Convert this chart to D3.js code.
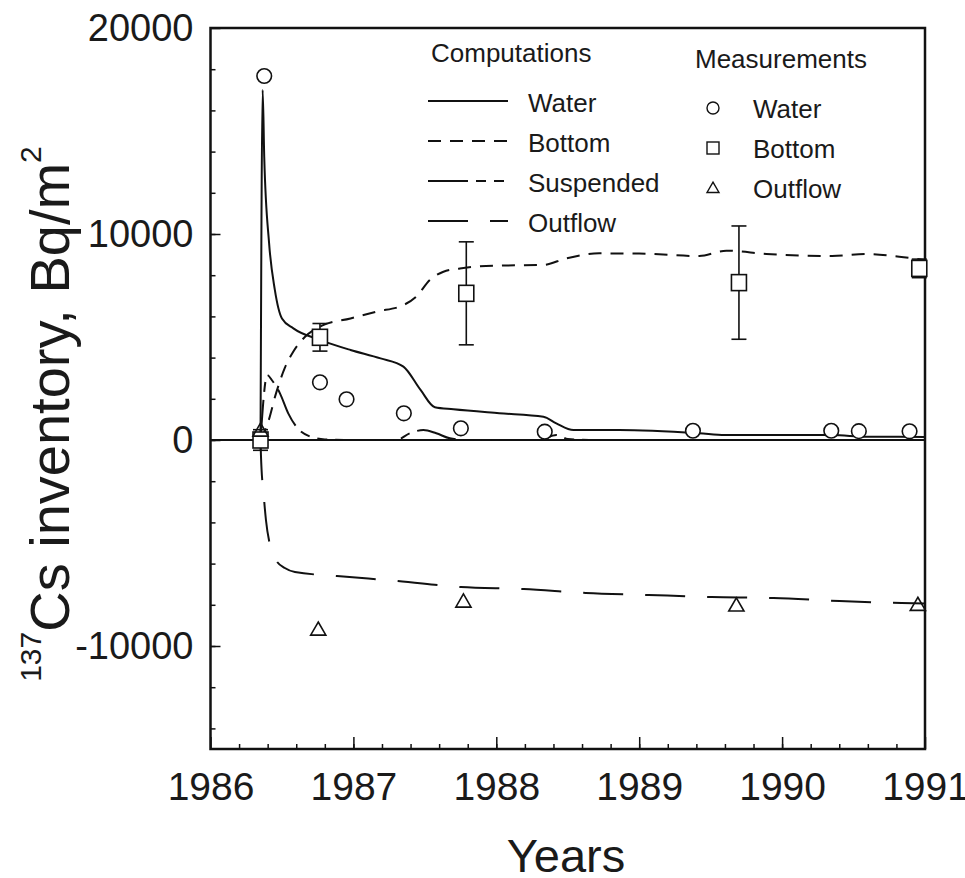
<!DOCTYPE html>
<html>
<head>
<meta charset="utf-8">
<script src="https://cdn.jsdelivr.net/npm/d3@7"></script>
<style>
  body { margin: 0; background: #fff; }
  text { font-family: "Liberation Sans", Arial, sans-serif; fill: #1a1a1a; }
</style>
</head>
<body>
<div id="main"></div>
<script>
// tick labels
var yearTicks = [1986, 1987, 1988, 1989, 1990, 1991];
var valueTicks = [-10000, 0, 10000, 20000];

// computations, [year, Bq/m2]
var waterCalc = [
  [1986.35, 0], [1986.365, 16990], [1986.376, 13750], [1986.41, 9560], [1986.45, 7300],
  [1986.50, 5900], [1986.58, 5420], [1986.77, 4850], [1986.98, 4370], [1987.19, 3960],
  [1987.35, 3560], [1987.47, 2430], [1987.57, 1590], [1987.70, 1490], [1988.02, 1300],
  [1988.33, 1130], [1988.42, 810], [1988.54, 485], [1988.86, 485], [1989.42, 325],
  [1989.60, 240], [1990.35, 240], [1990.59, 160], [1991.0, 150]
];
var bottomCalc = [
  [1986.35, 0], [1986.40, 800], [1986.46, 2300], [1986.52, 3500], [1986.58, 4300],
  [1986.66, 5000], [1986.78, 5550], [1986.98, 5900], [1987.16, 6230], [1987.35, 6550],
  [1987.44, 6960], [1987.535, 7770], [1987.63, 8170], [1987.745, 8330], [1987.98, 8460],
  [1988.33, 8500], [1988.49, 8820], [1988.72, 9060], [1989.0, 9050], [1989.42, 8930],
  [1989.61, 9190], [1989.89, 9030], [1990.35, 8930], [1990.59, 9030], [1990.82, 8900],
  [1991.0, 8740]
];
var suspendedCalc = [
  [1986.35, 0], [1986.397, 3155], [1986.43, 2900], [1986.486, 2265], [1986.544, 1295],
  [1986.60, 650], [1986.70, 160], [1986.80, 30], [1987.0, 0], [1987.30, 0],
  [1987.395, 325], [1987.49, 485], [1987.58, 325], [1987.675, 80], [1987.80, 0],
  [1988.30, 0], [1988.42, 240], [1988.50, 50], [1988.70, 0], [1991.0, 0]
];
var outflowCalc = [
  [1986.35, 0], [1986.353, -730], [1986.374, -2816], [1986.388, -3883], [1986.416, -5097],
  [1986.458, -5825], [1986.52, -6214], [1986.591, -6408], [1986.885, -6602], [1987.311, -6845],
  [1987.752, -7136], [1988.192, -7233], [1988.626, -7427], [1989.066, -7524], [1989.507, -7621],
  [1989.94, -7670], [1990.402, -7816], [1990.836, -7913], [1991.0, -7937]
];

// measurements
var waterMeas = [
  [1986.376, 17670], [1986.766, 2800], [1986.952, 1975], [1987.353, 1295], [1987.752, 567],
  [1988.339, 403], [1989.376, 450], [1990.344, 450], [1990.537, 430], [1990.892, 420]
];
// [year, value, error]
var bottomMeas = [
  [1986.35, 0, 500], [1986.766, 4985, 670], [1987.79, 7120, 2500], [1989.698, 7640, 2750], [1990.96, 8330, 450]
];
var outflowMeas = [
  [1986.35, 400], [1986.754, -9260], [1987.77, -7900], [1989.68, -8090], [1990.95, -8060]
];

var legendCalc = [
  { name: 'Water', data: waterCalc, dash: null },
  { name: 'Bottom', data: bottomCalc, dash: '13,9' },
  { name: 'Suspended', data: suspendedCalc, dash: '40,8,10,8,10,8' },
  { name: 'Outflow', data: outflowCalc, dash: '40,22' }
];

var width = 965, height = 878;
// note: "top" is taken by window.top, so plot edges get a prefix
var plotL = 210.5, plotR = 925, plotT = 28, plotB = 749;

var x = d3.scaleLinear().domain([1986, 1991]).range([plotL, plotR]);
var y = d3.scaleLinear().domain([-15000, 20000]).range([plotB, plotT]);

var svg = d3.select('#main').append('svg')
    .attr('width', width)
    .attr('height', height);

// minor ticks first, majors over them
svg.append('g')
    .attr('transform', 'translate(0,' + plotB + ')')
    .call(d3.axisBottom(x).tickValues(d3.range(1986.2, 1991, 0.2)).tickSize(-5).tickFormat(''))
    .call(function(g) { g.select('.domain').remove(); });

svg.append('g')
    .attr('transform', 'translate(' + plotL + ',0)')
    .call(d3.axisLeft(y).tickValues(d3.range(-14000, 20000, 2000)).tickSize(-5).tickFormat(''))
    .call(function(g) { g.select('.domain').remove(); });

var xAxis = svg.append('g')
    .attr('transform', 'translate(0,' + plotB + ')')
    .call(d3.axisBottom(x).tickValues(yearTicks).tickFormat(String).tickSize(-12).tickPadding(23));
xAxis.select('.domain').remove();
xAxis.selectAll('text').style('font-size', '39px').attr('fill', '#1a1a1a');

// plain hyphen and no thousands comma, as on the original
var yAxis = svg.append('g')
    .attr('transform', 'translate(' + plotL + ',0)')
    .call(d3.axisLeft(y).tickValues(valueTicks).tickFormat(String).tickSize(-10).tickPadding(17));
yAxis.select('.domain').remove();
yAxis.selectAll('text').style('font-size', '38px').attr('fill', '#1a1a1a');

svg.selectAll('.tick line').attr('stroke', '#111').attr('stroke-width', 1.5);

// frame and zero line
svg.append('rect')
    .attr('x', plotL).attr('y', plotT)
    .attr('width', plotR - plotL).attr('height', plotB - plotT)
    .attr('fill', 'none').attr('stroke', '#111').attr('stroke-width', 2.5);

svg.append('line')
    .attr('x1', plotL).attr('x2', plotR)
    .attr('y1', y(0)).attr('y2', y(0))
    .attr('stroke', '#111').attr('stroke-width', 2);

var line = d3.line()
    .x(function(d) { return x(d[0]); })
    .y(function(d) { return y(d[1]); })
    .curve(d3.curveMonotoneX);

svg.selectAll('path.calc').data(legendCalc)
  .enter().append('path')
    .attr('class', 'calc')
    .attr('d', function(d) { return line(d.data); })
    .attr('fill', 'none')
    .attr('stroke', '#111')
    .attr('stroke-width', 2)
    .attr('stroke-dasharray', function(d) { return d.dash; });

// error bars
var bars = svg.selectAll('g.err').data(bottomMeas)
  .enter().append('g').attr('class', 'err');
bars.append('line')
    .attr('x1', function(d) { return x(d[0]); })
    .attr('x2', function(d) { return x(d[0]); })
    .attr('y1', function(d) { return y(d[1] - d[2]); })
    .attr('y2', function(d) { return y(d[1] + d[2]); });
bars.selectAll('line.cap').data(function(d) { return [[d[0], d[1] - d[2]], [d[0], d[1] + d[2]]]; })
  .enter().append('line')
    .attr('class', 'cap')
    .attr('x1', function(d) { return x(d[0]) - 7.5; })
    .attr('x2', function(d) { return x(d[0]) + 7.5; })
    .attr('y1', function(d) { return y(d[1]); })
    .attr('y2', function(d) { return y(d[1]); });
bars.selectAll('line').attr('stroke', '#111').attr('stroke-width', 1.6);

var tri = d3.symbol().type(d3.symbolTriangle);

svg.selectAll('circle.wm').data(waterMeas)
  .enter().append('circle')
    .attr('class', 'wm')
    .attr('cx', function(d) { return x(d[0]); })
    .attr('cy', function(d) { return y(d[1]); })
    .attr('r', 7.3)
    .attr('fill', '#fff').attr('stroke', '#111').attr('stroke-width', 1.6);

svg.selectAll('rect.bm').data(bottomMeas)
  .enter().append('rect')
    .attr('class', 'bm')
    .attr('x', function(d) { return x(d[0]) - 7.5; })
    .attr('y', function(d) { return y(d[1]) - 8; })
    .attr('width', 15).attr('height', 16)
    .attr('fill', '#fff').attr('stroke', '#111').attr('stroke-width', 1.6);

svg.selectAll('path.om').data(outflowMeas)
  .enter().append('path')
    .attr('class', 'om')
    .attr('transform', function(d) { return 'translate(' + x(d[0]) + ',' + y(d[1]) + ')'; })
    .attr('d', tri.size(100)())
    .attr('fill', 'none').attr('stroke', '#111').attr('stroke-width', 1.6);

// legend: computations
var lc = svg.append('g');
lc.append('text').attr('x', 431).attr('y', 62).style('font-size', '26px').text('Computations');
var lcRows = lc.selectAll('g').data(legendCalc)
  .enter().append('g')
    .attr('transform', function(d, i) { return 'translate(0,' + (112 + i * 40) + ')'; });
lcRows.append('line')
    .attr('x1', 428).attr('x2', 508).attr('y1', -11).attr('y2', -11)
    .attr('stroke', '#111').attr('stroke-width', 2)
    .attr('stroke-dasharray', function(d) { return d.dash; });
lcRows.append('text').attr('x', 528).style('font-size', '26px').text(function(d) { return d.name; });

// legend: measurements
var lm = svg.append('g');
lm.append('text').attr('x', 695).attr('y', 68).style('font-size', '26px').text('Measurements');
var lmRows = lm.selectAll('g').data(['Water', 'Bottom', 'Outflow'])
  .enter().append('g')
    .attr('transform', function(d, i) { return 'translate(0,' + (118 + i * 40) + ')'; });
lmRows.append('text').attr('x', 753).style('font-size', '26px').text(function(d) { return d; });
lmRows.each(function(d, i) {
  var g = d3.select(this);
  if (i === 0) g.append('circle').attr('cx', 713).attr('cy', -10).attr('r', 6);
  if (i === 1) g.append('rect').attr('x', 707).attr('y', -16).attr('width', 12).attr('height', 12);
  if (i === 2) g.append('path').attr('transform', 'translate(713,-9)').attr('d', tri.size(62)());
  g.selectAll('circle,rect,path').attr('fill', 'none').attr('stroke', '#111').attr('stroke-width', 1.4);
});

// axis titles
svg.append('text')
    .attr('x', 566).attr('y', 872)
    .attr('text-anchor', 'middle')
    .style('font-size', '47px')
    .text('Years');

var yt = svg.append('text')
    .attr('transform', 'translate(69,414) rotate(-90)')
    .attr('text-anchor', 'middle');
yt.append('tspan').attr('dy', -28).style('font-size', '30px').text('137');
yt.append('tspan').attr('dy', 28).style('font-size', '56px').text('Cs inventory, Bq/m');
yt.append('tspan').attr('dy', -28).style('font-size', '30px').text('2');
</script>
</body>
</html>
